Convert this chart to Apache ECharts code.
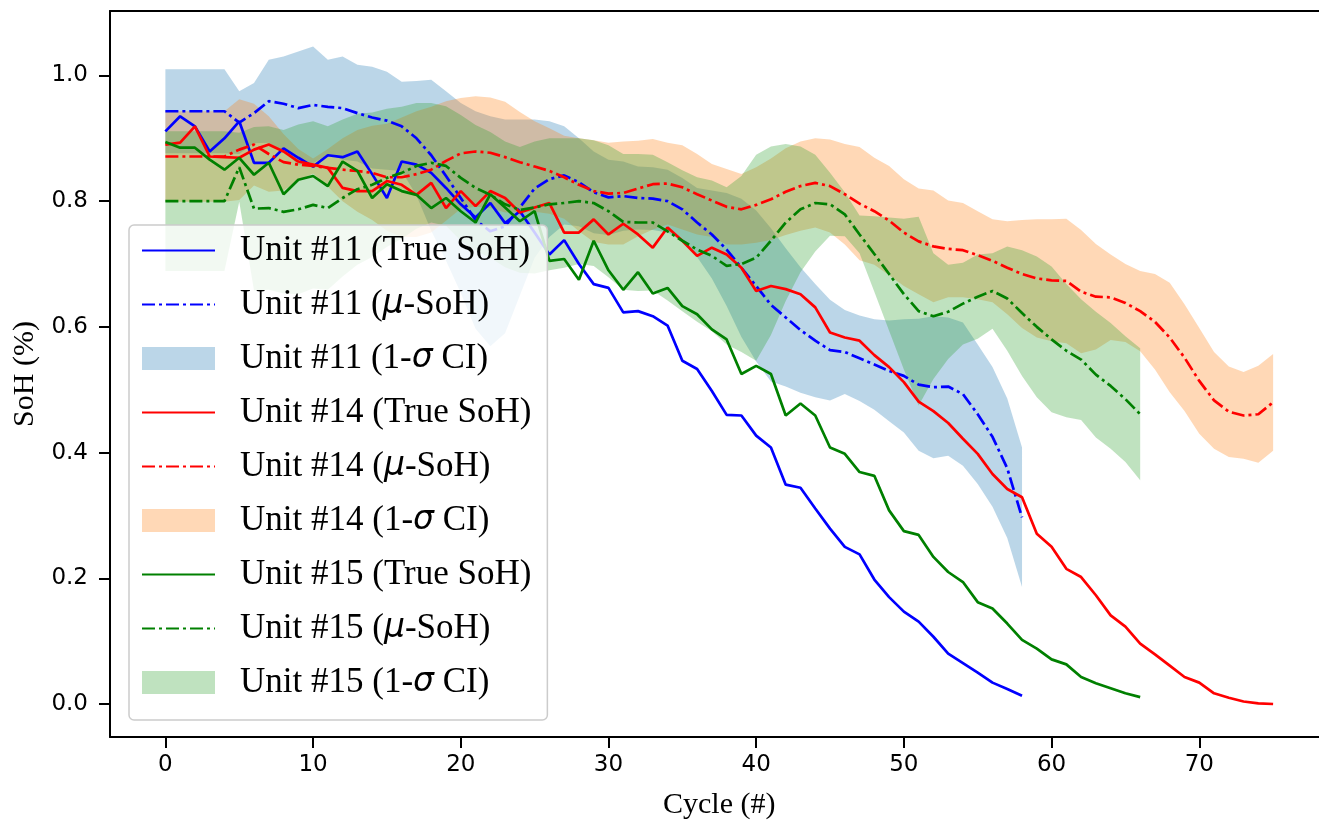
<!DOCTYPE html>
<html><head><meta charset="utf-8">
<script src="https://cdn.jsdelivr.net/npm/echarts@6/dist/echarts.min.js"></script>
<style>html,body{margin:0;padding:0;background:#fff;overflow:hidden}#c{width:1319px;height:823px}</style>
</head><body><div id="c"></div>
<script>
const xTicks = [0, 10, 20, 30, 40, 50, 60, 70];
const yTicks = [0, 0.2, 0.4, 0.6, 0.8, 1.0];

// Unit #11
const true11 = [0.911,0.935,0.919,0.879,0.900,0.927,0.861,0.861,0.884,0.869,0.855,0.873,0.870,0.879,0.843,0.805,0.863,0.858,0.845,0.821,0.795,0.774,0.797,0.765,0.784,0.750,0.715,0.738,0.700,0.668,0.662,0.623,0.625,0.617,0.602,0.546,0.533,0.498,0.460,0.459,0.427,0.408,0.349,0.344,0.311,0.279,0.250,0.238,0.198,0.170,0.147,0.131,0.107,0.080,0.065,0.050,0.034,0.024,0.013];
const mu11 = [0.943,0.943,0.943,0.943,0.943,0.925,0.940,0.959,0.955,0.948,0.953,0.950,0.948,0.940,0.933,0.928,0.919,0.900,0.873,0.840,0.805,0.770,0.752,0.760,0.790,0.820,0.835,0.841,0.830,0.814,0.806,0.808,0.805,0.804,0.800,0.787,0.766,0.747,0.723,0.694,0.665,0.635,0.615,0.595,0.578,0.563,0.560,0.550,0.540,0.530,0.522,0.508,0.504,0.505,0.493,0.461,0.425,0.375,0.297];
const sd11 = [0.067,0.067,0.067,0.067,0.067,0.050,0.048,0.066,0.075,0.090,0.093,0.075,0.082,0.077,0.081,0.078,0.071,0.091,0.120,0.135,0.151,0.173,0.183,0.170,0.140,0.110,0.092,0.078,0.070,0.065,0.060,0.055,0.050,0.050,0.050,0.050,0.055,0.070,0.090,0.110,0.120,0.122,0.110,0.100,0.090,0.080,0.067,0.068,0.072,0.080,0.090,0.105,0.113,0.110,0.114,0.111,0.111,0.111,0.111];

// Unit #14
const true14 = [0.890,0.893,0.919,0.871,0.870,0.869,0.882,0.890,0.879,0.863,0.858,0.853,0.821,0.816,0.816,0.832,0.826,0.810,0.829,0.789,0.816,0.792,0.816,0.805,0.782,0.790,0.797,0.750,0.750,0.771,0.747,0.764,0.747,0.726,0.758,0.737,0.713,0.726,0.715,0.694,0.657,0.665,0.660,0.652,0.631,0.591,0.583,0.578,0.555,0.536,0.512,0.481,0.466,0.447,0.422,0.398,0.366,0.342,0.329,0.271,0.250,0.215,0.202,0.173,0.141,0.123,0.096,0.079,0.061,0.043,0.034,0.017,0.010,0.004,0.001,0.000];
const mu14 = [0.871,0.871,0.871,0.871,0.871,0.882,0.890,0.875,0.862,0.858,0.856,0.853,0.850,0.848,0.845,0.838,0.838,0.843,0.850,0.864,0.876,0.879,0.877,0.870,0.862,0.855,0.848,0.838,0.826,0.816,0.812,0.813,0.820,0.827,0.828,0.822,0.811,0.801,0.791,0.787,0.794,0.803,0.815,0.824,0.829,0.824,0.811,0.796,0.784,0.769,0.750,0.736,0.728,0.724,0.722,0.714,0.705,0.694,0.684,0.677,0.674,0.673,0.656,0.648,0.647,0.638,0.625,0.608,0.583,0.551,0.514,0.483,0.465,0.459,0.461,0.480];
const sd14 = [0.072,0.072,0.072,0.072,0.072,0.080,0.065,0.060,0.045,0.025,0.012,0.030,0.050,0.065,0.075,0.085,0.095,0.100,0.100,0.095,0.088,0.088,0.088,0.088,0.080,0.072,0.068,0.066,0.074,0.081,0.081,0.082,0.076,0.072,0.065,0.067,0.064,0.058,0.060,0.056,0.060,0.065,0.069,0.071,0.071,0.074,0.080,0.090,0.085,0.087,0.085,0.084,0.089,0.077,0.075,0.070,0.066,0.074,0.086,0.094,0.097,0.099,0.098,0.084,0.068,0.062,0.064,0.076,0.087,0.085,0.084,0.077,0.072,0.069,0.077,0.077];

// Unit #15
const true15 = [0.894,0.885,0.885,0.866,0.850,0.869,0.842,0.861,0.811,0.834,0.840,0.824,0.863,0.848,0.805,0.827,0.816,0.810,0.789,0.805,0.784,0.766,0.811,0.790,0.768,0.784,0.705,0.708,0.675,0.737,0.690,0.659,0.687,0.653,0.662,0.633,0.620,0.596,0.580,0.525,0.538,0.525,0.459,0.478,0.459,0.408,0.398,0.369,0.363,0.308,0.275,0.269,0.234,0.210,0.194,0.162,0.152,0.128,0.102,0.088,0.071,0.063,0.043,0.033,0.025,0.017,0.011];
const mu15 = [0.800,0.800,0.800,0.800,0.800,0.854,0.788,0.789,0.783,0.787,0.794,0.789,0.805,0.819,0.826,0.837,0.845,0.856,0.861,0.856,0.837,0.821,0.810,0.795,0.786,0.790,0.795,0.797,0.800,0.797,0.784,0.767,0.766,0.766,0.752,0.737,0.723,0.713,0.697,0.700,0.710,0.737,0.766,0.787,0.797,0.795,0.779,0.747,0.716,0.684,0.652,0.625,0.617,0.624,0.637,0.648,0.657,0.645,0.622,0.600,0.580,0.562,0.548,0.524,0.506,0.485,0.461];
const sd15 = [0.111,0.111,0.111,0.111,0.111,0.055,0.130,0.130,0.130,0.135,0.133,0.130,0.125,0.120,0.115,0.110,0.105,0.100,0.095,0.095,0.100,0.100,0.100,0.100,0.100,0.105,0.105,0.103,0.100,0.100,0.105,0.108,0.109,0.108,0.110,0.112,0.115,0.120,0.125,0.140,0.164,0.150,0.125,0.100,0.077,0.050,0.035,0.030,0.060,0.090,0.120,0.150,0.100,0.075,0.065,0.067,0.060,0.083,0.100,0.112,0.116,0.106,0.096,0.100,0.100,0.100,0.105];

const names = {
  t11: 'Unit #11 (True SoH)', m11: 'Unit #11 (μ-SoH)', c11: 'Unit #11 (1-σ CI)',
  t14: 'Unit #14 (True SoH)', m14: 'Unit #14 (μ-SoH)', c14: 'Unit #14 (1-σ CI)',
  t15: 'Unit #15 (True SoH)', m15: 'Unit #15 (μ-SoH)', c15: 'Unit #15 (1-σ CI)'
};
const bandColors = ['rgba(31,119,180,0.3)', 'rgba(255,127,14,0.3)', 'rgba(44,160,44,0.3)'];
const lineColors = ['#0000ff', '#ff0000', '#008000'];
const dashDot = [13, 4, 3, 4];

const pts = arr => arr.map((v, i) => [i, v]);

// mean ± sigma band drawn as one polygon through the axis scales
function band(name, mu, sd, color) {
  return {
    type: 'custom', name: name, data: [[0, mu[0]]], encode: { x: 0, y: 1 },
    silent: true, z: 1, animation: false, itemStyle: { color: color },
    renderItem: function (params, api) {
      if (params.dataIndex !== 0) return null;
      const up = mu.map((v, i) => api.coord([i, v + sd[i]]));
      const dn = mu.map((v, i) => api.coord([i, v - sd[i]])).reverse();
      return { type: 'polygon', shape: { points: up.concat(dn) }, style: { fill: color } };
    }
  };
}
function line(name, arr, color, dashed) {
  return { type: 'line', name: name, data: pts(arr), symbol: 'none', showSymbol: false,
    lineStyle: { color: color, width: 2.7, type: dashed ? dashDot : 'solid', cap: 'butt' },
    itemStyle: { color: color }, z: 3, animation: false, silent: true };
}

const series = [
  band(names.c11, mu11, sd11, bandColors[0]),
  band(names.c14, mu14, sd14, bandColors[1]),
  band(names.c15, mu15, sd15, bandColors[2]),
  line(names.t11, true11, lineColors[0], false),
  line(names.m11, mu11, lineColors[0], true),
  line(names.t14, true14, lineColors[1], false),
  line(names.m14, mu14, lineColors[1], true),
  line(names.t15, true15, lineColors[2], false),
  line(names.m15, mu15, lineColors[2], true)
];

const hideDot = { opacity: 0 };
const legendData = [
  { name: names.t11, itemStyle: hideDot }, { name: names.m11, itemStyle: hideDot },
  { name: names.c11, icon: 'rect', itemStyle: { color: bandColors[0] } },
  { name: names.t14, itemStyle: hideDot }, { name: names.m14, itemStyle: hideDot },
  { name: names.c14, icon: 'rect', itemStyle: { color: bandColors[1] } },
  { name: names.t15, itemStyle: hideDot }, { name: names.m15, itemStyle: hideDot },
  { name: names.c15, icon: 'rect', itemStyle: { color: bandColors[2] } }
];

const spine = { show: true, onZero: false, lineStyle: { color: '#000', width: 2 } };

const chart = echarts.init(document.getElementById('c'), null, { renderer: 'canvas' });
chart.setOption({
  animation: false,
  backgroundColor: '#fff',
  grid: { left: 110, top: 11, width: 1218.5, height: 726, show: false, containLabel: false, outerBoundsMode: 'none' },
  xAxis: [{
    type: 'value', min: -3.75, max: 78.75,
    axisLine: spine,
    axisTick: { show: true, customValues: xTicks, length: 11, lineStyle: { color: '#000', width: 2 } },
    axisLabel: { customValues: xTicks, fontSize: 23, fontFamily: 'DejaVu Sans', color: '#000', margin: 17 },
    splitLine: { show: false },
    name: 'Cycle (#)', nameLocation: 'middle', nameGap: 53,
    nameTextStyle: { fontFamily: 'Liberation Serif', fontSize: 30, color: '#000' }
  }, {
    type: 'value', position: 'top', min: -3.75, max: 78.75,
    axisLine: spine, axisTick: { show: false }, axisLabel: { show: false }, splitLine: { show: false }
  }],
  yAxis: {
    type: 'value', min: -0.0525, max: 1.1025,
    axisLine: spine,
    axisTick: { show: true, customValues: yTicks, length: 11, lineStyle: { color: '#000', width: 2 } },
    axisLabel: { customValues: yTicks, fontSize: 23, fontFamily: 'DejaVu Sans', color: '#000', margin: 22,
      formatter: v => v.toFixed(1) },
    splitLine: { show: false },
    name: 'SoH (%)', nameLocation: 'middle', nameGap: 60, nameRotate: 90,
    nameTextStyle: { fontFamily: 'Liberation Serif', fontSize: 30, color: '#000' }
  },
  legend: {
    show: true, orient: 'vertical', left: 129, top: 225,
    data: legendData, selectedMode: false,
    itemWidth: 73, itemHeight: 23, itemGap: 19,
    padding: [8, 16, 20, 12],
    backgroundColor: 'rgba(255,255,255,0.8)', borderColor: '#cccccc', borderWidth: 1.5, borderRadius: 5,
    textStyle: {
      fontFamily: 'Liberation Serif', fontSize: 35, color: '#000', lineHeight: 35, padding: [0, 0, 0, 20],
      rich: { m: { fontFamily: 'DejaVu Sans', fontStyle: 'italic', fontSize: 33, color: '#000' } }
    },
    formatter: n => n.replace('μ', '{m|μ}').replace('σ', '{m|σ}')
  },
  series: series
});
</script>
</body></html>
